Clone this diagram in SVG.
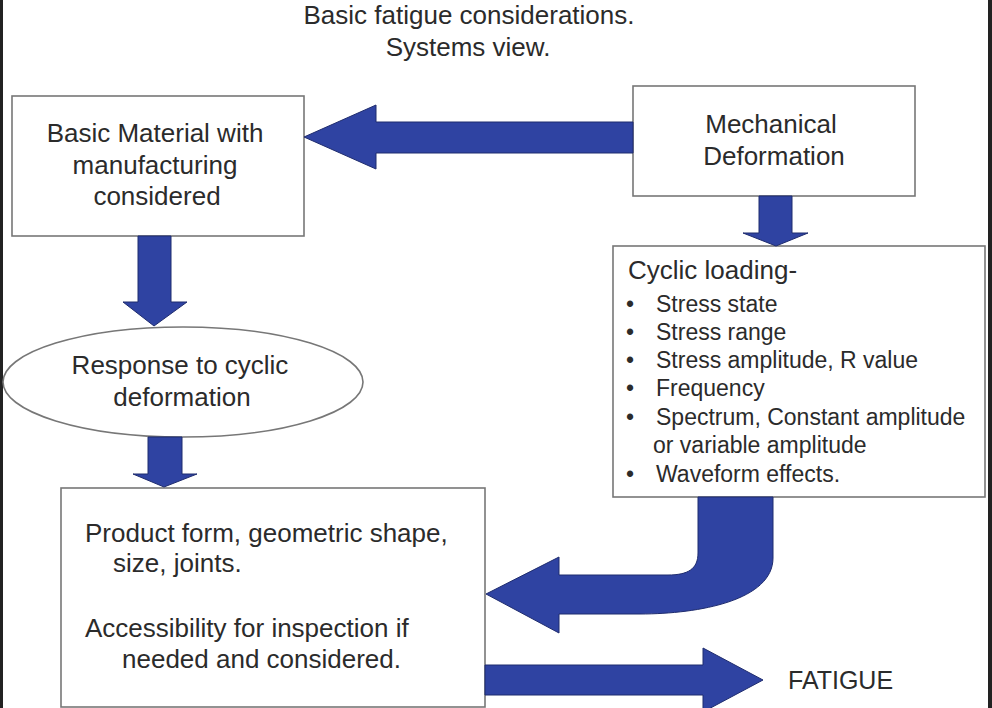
<svg xmlns="http://www.w3.org/2000/svg" width="992" height="708" viewBox="0 0 992 708">
<style>
text{font-family:"Liberation Sans",Arial,sans-serif;fill:#2b2b2b}
.t26{font-size:26px}
.t23{font-size:23px}
.mid{text-anchor:middle}
.box{fill:#fff;stroke:#777;stroke-width:1.6}
.arr{fill:#2f43a2;stroke:#1f2c6e;stroke-width:1}
</style>
<rect x="0" y="0" width="992" height="708" fill="#fff"/>
<rect x="0" y="0" width="3" height="708" fill="#222"/>
<rect x="988" y="0" width="4" height="708" fill="#222"/>
<g id="title">
<text class="t26 mid" x="469" y="24">Basic fatigue considerations.</text>
<text class="t26 mid" x="468" y="56">Systems view.</text>
</g>
<g id="basic-material">
<rect class="box" x="12" y="96" width="292" height="140"/>
<text class="t26 mid" x="155" y="142">Basic Material with</text>
<text class="t26 mid" x="155" y="174">manufacturing</text>
<text class="t26 mid" x="157" y="205">considered</text>
</g>
<g id="mechanical">
<rect class="box" x="633" y="86" width="282" height="110"/>
<text class="t26 mid" x="771" y="133">Mechanical</text>
<text class="t26 mid" x="774" y="165">Deformation</text>
</g>
<g id="cyclic">
<rect class="box" x="613" y="246" width="372" height="251"/>
<text class="t26" x="628" y="279">Cyclic loading-</text>
<text class="t23" x="626" y="312">•</text>
<text class="t23" x="656" y="312">Stress state</text>
<text class="t23" x="626" y="340">•</text>
<text class="t23" x="656" y="340">Stress range</text>
<text class="t23" x="626" y="368">•</text>
<text class="t23" x="656" y="368">Stress amplitude, R value</text>
<text class="t23" x="626" y="396">•</text>
<text class="t23" x="656" y="396">Frequency</text>
<text class="t23" x="626" y="425">•</text>
<text class="t23" x="656" y="425">Spectrum, Constant amplitude</text>
<text class="t23" x="653" y="453">or variable amplitude</text>
<text class="t23" x="626" y="482">•</text>
<text class="t23" x="656" y="482">Waveform effects.</text>
</g>
<g id="response">
<ellipse class="box" cx="183" cy="382" rx="180" ry="55"/>
<text class="t26 mid" x="180" y="374">Response to cyclic</text>
<text class="t26 mid" x="182" y="406">deformation</text>
</g>
<g id="product">
<rect class="box" x="61" y="488" width="424" height="219"/>
<text class="t26" x="85" y="542">Product form, geometric shape,</text>
<text class="t26" x="113" y="572">size, joints.</text>
<text class="t26" x="85" y="637">Accessibility for inspection if</text>
<text class="t26" x="122" y="668">needed and considered.</text>
</g>
<g id="fatigue">
<text class="t26" x="788" y="689" style="font-size:25px">FATIGUE</text>
</g>
<g id="connectors">
<path class="arr" d="M633,122 L376,122 L376,105 L304,137 L376,169 L376,153 L633,153 Z"/>
<path class="arr" d="M759,196 L759,233 L743,233 L776,246 L808,233 L792,233 L792,196 Z"/>
<path class="arr" d="M138,236 L138,302 L123,302 L154,326 L187,302 L171,302 L171,236 Z"/>
<path class="arr" d="M148,437 L148,474 L133,474 L164,487 L197,474 L182,474 L182,437 Z"/>
<path class="arr" d="M698,497 L698,553 C698,569 688,575 668,575 L559,575 L559,557 L486,594 L559,633 L559,614 L640,614 C700,614 773,600 773,558 L773,497 Z"/>
<path class="arr" d="M485,665 L703,665 L703,648 L763,680 L703,712 L703,695 L485,695 Z"/>
</g>
</svg>
